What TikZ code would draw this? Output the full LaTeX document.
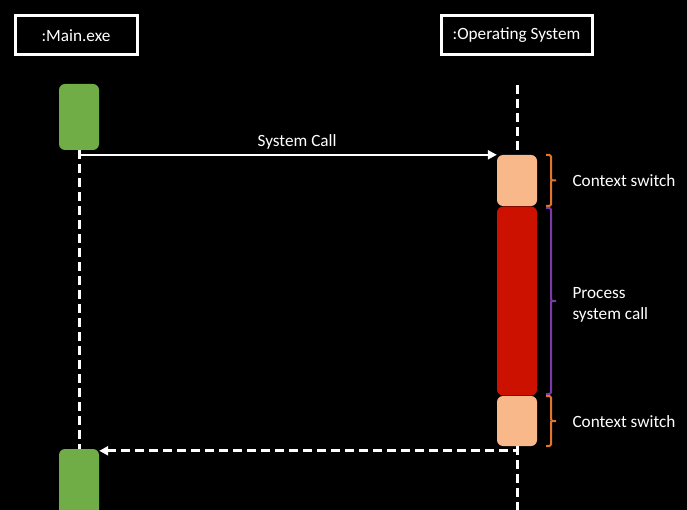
\documentclass[tikz,border=0pt]{standalone}
\usepackage{fontspec}
\setmainfont{Carlito}
\usetikzlibrary{arrows.meta}
\definecolor{actgreen}{HTML}{70AD47}
\definecolor{switchpeach}{HTML}{F9B88A}
\definecolor{procred}{HTML}{CC1100}
\definecolor{braceorange}{HTML}{E0762A}
\definecolor{bracepurple}{HTML}{7A3BA8}
\begin{document}
\begin{tikzpicture}[x=1pt, y=-1pt,
	every node/.style={text=white, font=\fontsize{17.2}{21}\selectfont},
	lifebox/.style={draw=white, line width=3pt, minimum height=39pt, inner sep=0pt},
	activation/.style={rounded corners=6pt, minimum width=40pt, inner sep=0pt},
	lifeline/.style={white, line width=3pt, dash pattern=on 9pt off 5pt},
	msg/.style={white, line width=2.5pt, -{Triangle[length=9pt,width=9pt]}},
	bracket/.style={line width=2pt, rounded corners=1.5pt}]
	\fill [black] (0,0) rectangle (687,510);
	\useasboundingbox (0,0) rectangle (687,510);
	% objects
	\node [lifebox, minimum width=122pt] (main) at (76,35.5) {:Main.exe};
	\node [lifebox, minimum width=151pt] (os) at (516.5,35.5) {:Operating System};
	% activations
	\node [activation, fill=actgreen, minimum height=66pt] (run1) at (79,117) {};
	\node [activation, fill=actgreen, minimum height=122pt] (run2) at (79,510) {};
	\node [activation, fill=switchpeach, minimum height=51pt] (switch1) at (517,180.5) {};
	\node [activation, fill=procred, minimum height=189pt] (proc) at (517,301) {};
	\node [activation, fill=switchpeach, minimum height=50pt] (switch2) at (517,421) {};
	\coordinate (ostop) at (517,85);
	\coordinate (osend) at (517,512);
	% lifelines
	\draw [lifeline] (run1.south) -- (run2.north);
	\draw [lifeline] (ostop) -- (switch1.north);
	\draw [lifeline] (switch2.south) -- (osend);
	% messages
	\draw [msg] (run1.south) |- (switch1.north west) node [pos=0.761, above=1pt] {System Call};
	\draw [msg, dash pattern=on 9pt off 5pt, line width=3pt] (switch2.south) |- ([yshift=-2pt]run2.north east);
	% brackets
	\foreach \col/\top/\bot in {braceorange/155/206, bracepurple/208/394, braceorange/396/446}
		\draw [bracket, \col] (546,\top) -| (551,{(\top+\bot)/2}) -- (556,{(\top+\bot)/2})
			(551,{(\top+\bot)/2}) |- (546,\bot);
	\node [anchor=west] (cs1) at (569,181) {Context switch};
	\node [anchor=west, align=left] (psc) at (569,305) {Process\\system call};
	\node [anchor=west] (cs2) at (569,422) {Context switch};
\end{tikzpicture}
\end{document}
